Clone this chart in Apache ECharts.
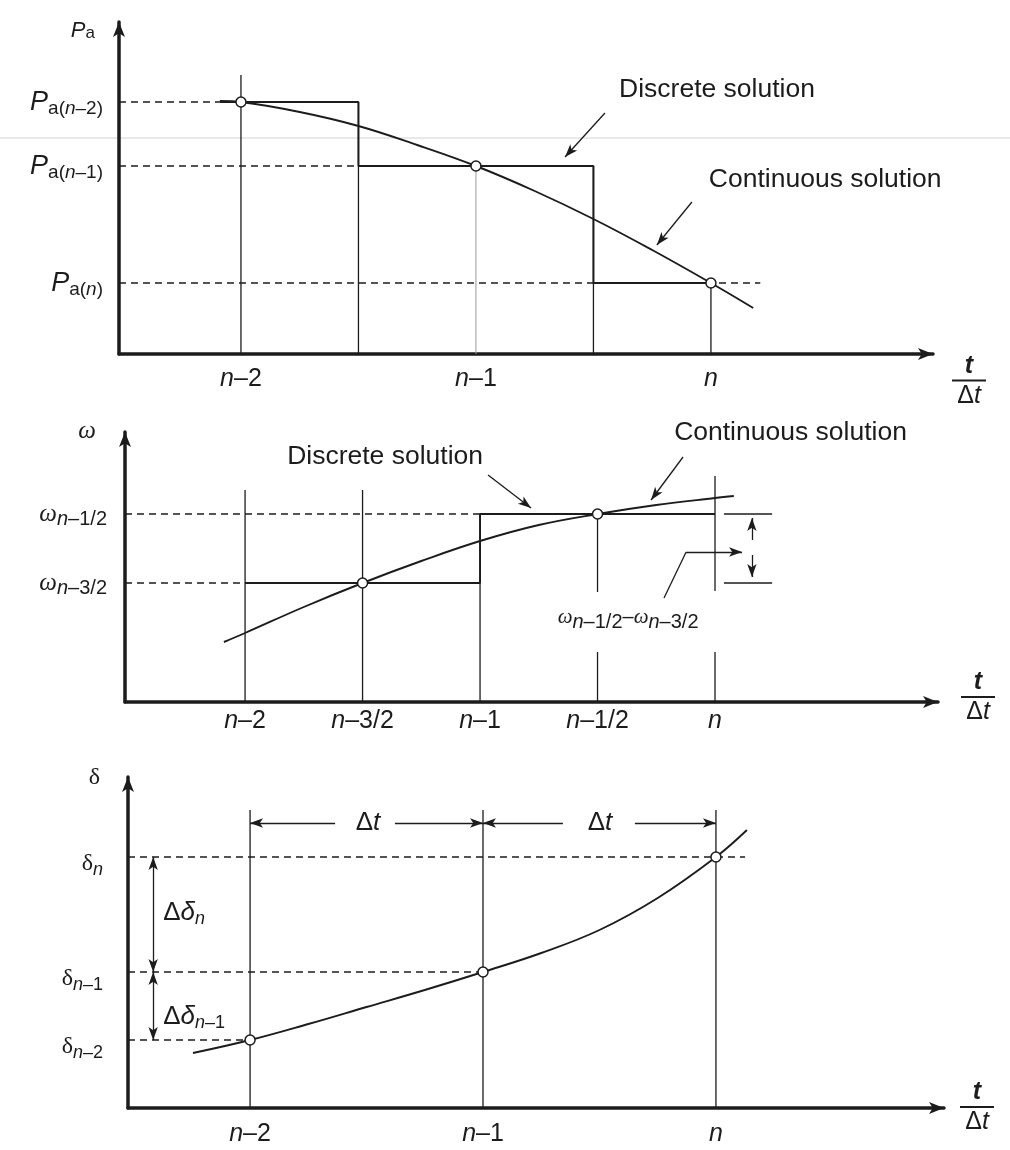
<!DOCTYPE html>
<html>
<head>
<meta charset="utf-8">
<script src="https://cdn.jsdelivr.net/npm/echarts@6/dist/echarts.min.js"></script>
<style>
  html, body { margin: 0; background: #fff; }
  #chart { width: 1010px; height: 1150px; }
</style>
</head>
<body>
<div id="chart"></div>
<script>
const INK = '#1c1c1c';
const FONT = '"Liberation Sans", Arial, sans-serif';
const SERIF = '"Liberation Serif", "DejaVu Serif", serif';

// ---- panel 1 : accelerating power Pa ----
const paTicks = [-2, -1, 0];
const paTickLabels = ['{i|n}–2', '{i|n}–1', '{i|n}'];
const paLevels = [252, 188, 71];
const paLevelLabels = ['{P|P}{s|a(}{si|n}{s|–2)}', '{P|P}{s|a(}{si|n}{s|–1)}', '{P|P}{s|a(}{si|n}{s|)}'];
const paContinuous = [[-2.09, 253], [-2, 252], [-1.75, 242], [-1.5, 228], [-1.25, 209], [-1, 188],
  [-0.75, 163], [-0.5, 135], [-0.25, 104], [0, 71], [0.18, 46]];
const paDiscrete = [[-2.09, 252], [-1.5, 252], [-1.5, 188], [-0.5, 188], [-0.5, 71], [0, 71]];
const paSamples = [[-2, 252], [-1, 188], [0, 71]];
const paVerticals = [[-2, 279, 0], [-1.5, 252, 0], [-0.5, 188, 0], [0, 71, 0]];
const paFaint = [[-1, 188, 0]];
const paDashEnds = [-2.09, -1.5, 0.21];
const paNotes = [['Discrete solution', -0.391, 264], ['Continuous solution', -0.009, 174]];
const paPointers = [[[-0.451, 241], [-0.621, 197]], [[-0.081, 152], [-0.230, 109]]];

// ---- panel 2 : speed ω ----
const wTicks = [-2, -1.5, -1, -0.5, 0];
const wTickLabels = ['{i|n}–2', '{i|n}–3/2', '{i|n}–1', '{i|n}–1/2', '{i|n}'];
const wLevels = [188, 119];
const wLevelLabels = ['{w|ω}{si|n}{s|–1/2}', '{w|ω}{si|n}{s|–3/2}'];
const wContinuous = [[-2.09, 60], [-2, 69], [-1.75, 95], [-1.5, 119], [-1.25, 141], [-1, 161],
  [-0.75, 177], [-0.5, 188], [-0.25, 197], [0, 204], [0.08, 206]];
const wDiscrete = [[-2, 119], [-1, 119], [-1, 188], [0, 188]];
const wSamples = [[-1.5, 119], [-0.5, 188]];
const wVerticals = [[-2, 212, 0], [-1.5, 212, 0], [-1, 188, 0], [-0.5, 188, 110], [-0.5, 50, 0],
  [0, 226, 111], [0, 50, 0]];
const wDashEnds = [-1, -2];
const wBracketX = [0.038, 0.243];
const wBracketArrows = [[[0.157, 162], [0.157, 184]], [[0.157, 147], [0.157, 125]]];
const wLeader = [[-0.217, 104], [-0.123, 150]];
const wLeaderArrow = [[-0.123, 150], [0.115, 150]];
const wNotes = [['Discrete solution', -1.821, 245], ['Continuous solution', -0.174, 269]];
const wPointers = [[[-0.966, 227], [-0.783, 194]], [[-0.136, 245], [-0.272, 202]]];
const wDiffLabel = ['{v|ω}{si|n}{s|–1/2}{m|–}{v|ω}{si|n}{s|–3/2}', -0.37, 85];

// ---- panel 3 : rotor angle δ ----
const dTicks = [-2, -1, 0];
const dTickLabels = ['{i|n}–2', '{i|n}–1', '{i|n}'];
const dLevels = [251, 136, 68];
const dLevelLabels = ['{d|δ}{si|n}', '{d|δ}{si|n}{s|–1}', '{d|δ}{si|n}{s|–2}'];
const dContinuous = [[-2.245, 55], [-2, 68], [-1.75, 84], [-1.5, 101], [-1.25, 118], [-1, 136],
  [-0.75, 155], [-0.5, 178], [-0.25, 210], [0, 251], [0.133, 278]];
const dSamples = [[-2, 68], [-1, 136], [0, 251]];
const dVerticals = [[-2, 298, 0], [-1, 298, 0], [0, 298, 0]];
const dDashEnds = [0.125, -1, -2];
const dStepArrows = [[[-1.635, 285], [-2, 285]], [[-1.378, 285], [-1, 285]],
  [[-0.657, 285], [-1, 285]], [[-0.348, 285], [0, 285]]];
const dStepLabels = [['{D|Δ}{ti|t}', -1.494, 285], ['{D|Δ}{ti|t}', -0.498, 285]];
const dDeltaArrows = [[[-2.416, 251], [-2.416, 136]], [[-2.416, 136], [-2.416, 68]]];
const dDeltaLabels = [['{D|Δ}{dl|δ}{si|n}', -2.373, 195], ['{D|Δ}{dl|δ}{si|n}{s|–1}', -2.373, 91]];

const xRich = { i: { fontStyle: 'italic', fontSize: 25, fontFamily: FONT, color: INK } };
const fracRich = {
  ft: { fontSize: 25, fontStyle: 'italic', fontWeight: 'bold', fontFamily: FONT, color: INK, align: 'center', lineHeight: 24 },
  bar: { width: 34, height: 2, lineHeight: 5, fontSize: 2, backgroundColor: INK, align: 'center' },
  fd: { fontSize: 25, fontFamily: FONT, color: INK, align: 'center', lineHeight: 26 },
  fdi: { fontSize: 25, fontStyle: 'italic', fontFamily: FONT, color: INK, align: 'center', lineHeight: 26 }
};
const paRich = {
  P: { fontSize: 27, fontStyle: 'italic', fontFamily: FONT, color: INK },
  s: { fontSize: 19, fontFamily: FONT, color: INK, padding: [13, 0, 0, 0] },
  si: { fontSize: 19, fontStyle: 'italic', fontFamily: FONT, color: INK, padding: [13, 0, 0, 0] },
  p: { fontSize: 22, fontStyle: 'italic', fontFamily: FONT, color: INK },
  a: { fontSize: 17, fontFamily: FONT, color: INK, padding: [5, 0, 0, 0] }
};
const wRich = {
  w: { fontSize: 25, fontStyle: 'italic', fontFamily: SERIF, color: INK },
  v: { fontSize: 21, fontStyle: 'italic', fontFamily: SERIF, color: INK },
  s: { fontSize: 20, fontFamily: FONT, color: INK, padding: [11, 0, 0, 0] },
  si: { fontSize: 20, fontStyle: 'italic', fontFamily: FONT, color: INK, padding: [11, 0, 0, 0] },
  m: { fontSize: 20, fontFamily: FONT, color: INK }
};
const dRich = {
  d: { fontSize: 24, fontFamily: SERIF, color: INK },
  D: { fontSize: 26, fontFamily: FONT, color: INK },
  dl: { fontSize: 26, fontStyle: 'italic', fontFamily: FONT, color: INK },
  ti: { fontSize: 26, fontStyle: 'italic', fontFamily: FONT, color: INK },
  s: { fontSize: 18, fontFamily: FONT, color: INK, padding: [12, 0, 0, 0] },
  si: { fontSize: 18, fontStyle: 'italic', fontFamily: FONT, color: INK, padding: [12, 0, 0, 0] }
};

const xRanges = [[-2.519, 0.945], [-2.511, 0.949], [-2.524, 0.979]];
const yMax = [332, 270, 331];

function pick(v, vals, labels) {
  const k = vals.findIndex(t => Math.abs(t - v) < 1e-6);
  return k < 0 ? '' : labels[k];
}

function xAxis(gi, ticks, labels, margin, nameGap, nameAlignV, namePad) {
  return {
    type: 'value', gridIndex: gi, min: xRanges[gi][0], max: xRanges[gi][1],
    axisLine: { show: true, onZero: false, symbol: ['none', 'arrow'], symbolSize: [9, 15],
      lineStyle: { color: INK, width: 3.5 } },
    axisTick: { show: false }, splitLine: { show: false },
    axisLabel: { customValues: ticks, margin: margin, fontSize: 25, fontFamily: FONT, color: INK,
      formatter: v => pick(v, ticks, labels), rich: xRich },
    name: '{ft|t}\n{bar| }\n{fd|Δ}{fdi|t}', nameLocation: 'end', nameGap: nameGap,
    nameTextStyle: { align: 'left', verticalAlign: nameAlignV, padding: namePad, rich: fracRich }
  };
}

function yAxis(gi, levels, labels, rich, margin, labelPad, name, nameGap, namePad) {
  return {
    type: 'value', gridIndex: gi, min: 0, max: yMax[gi],
    axisLine: { show: true, onZero: false, symbol: ['none', 'arrow'], symbolSize: [9, 15],
      lineStyle: { color: INK, width: 3.5 } },
    axisTick: { show: false }, splitLine: { show: false },
    axisLabel: { customValues: levels, margin: margin, padding: labelPad, color: INK,
      formatter: v => pick(v, levels, labels), rich: rich },
    name: name, nameLocation: 'end', nameGap: nameGap,
    nameTextStyle: { align: 'right', padding: namePad, rich: rich }
  };
}

function poly(gi, data, lineStyle, extra) {
  return Object.assign({
    type: 'line', xAxisIndex: gi, yAxisIndex: gi, data: data, symbol: 'none',
    silent: true, animation: false, clip: false, lineStyle: lineStyle
  }, extra || {});
}

const solid = { color: INK, width: 1.9 };
const thin = { color: INK, width: 1.3 };
const faint = { color: '#9a9a9a', width: 1 };
const dashed = { color: INK, width: 1.3, type: [7, 5] };
const curved = { smooth: 0.4 };

function verticals(gi, list, style) {
  return list.map(([x, top, bot]) => poly(gi, [[x, top], [x, bot]], style));
}
function dashes(gi, levels, ends) {
  return levels.map((lv, k) => poly(gi, [[xRanges[gi][0], lv], [ends[k], lv]], dashed));
}
function samples(gi, data) {
  return {
    type: 'scatter', xAxisIndex: gi, yAxisIndex: gi, data: data, symbolSize: 10, z: 5,
    silent: true, animation: false,
    itemStyle: { color: '#fff', borderColor: INK, borderWidth: 1.5, opacity: 1 }
  };
}
function arrows(gi, list, both) {
  return {
    type: 'line', xAxisIndex: gi, yAxisIndex: gi, data: [], silent: true, animation: false,
    markLine: {
      silent: true, animation: false, symbol: [both ? 'arrow' : 'none', 'arrow'], symbolSize: [7, 13],
      label: { show: false }, lineStyle: { color: INK, width: 1.3, type: 'solid' },
      emphasis: { disabled: true },
      data: list.map(([a, b]) => [{ coord: a }, { coord: b }])
    }
  };
}
function notes(gi, list, rich, fontSize, align) {
  return {
    type: 'scatter', xAxisIndex: gi, yAxisIndex: gi, symbolSize: 0, silent: true, animation: false, z: 6,
    itemStyle: { opacity: 1 },
    data: list.map(([text, x, y]) => ({
      value: [x, y],
      label: { show: true, formatter: text, position: align === 'left' ? 'right' : 'inside', distance: 0,
        fontSize: fontSize, fontFamily: FONT, color: INK, opacity: 1, rich: rich }
    }))
  };
}

const series = [].concat(
  // panel 1
  verticals(0, paVerticals, thin),
  verticals(0, paFaint, faint),
  dashes(0, paLevels, paDashEnds),
  [poly(0, paDiscrete, solid), poly(0, paContinuous, solid, curved),
   samples(0, paSamples), arrows(0, paPointers, false),
   notes(0, paNotes, {}, 26.5, 'left')],
  // panel 2
  verticals(1, wVerticals, thin),
  dashes(1, wLevels, wDashEnds),
  wLevels.map(lv => poly(1, [[wBracketX[0], lv], [wBracketX[1], lv]], thin)),
  [poly(1, wDiscrete, solid), poly(1, wContinuous, solid, curved),
   samples(1, wSamples), arrows(1, wPointers, false), arrows(1, wBracketArrows, false),
   poly(1, wLeader, thin), arrows(1, [wLeaderArrow], false),
   notes(1, wNotes, {}, 26.5, 'left'),
   notes(1, [wDiffLabel], wRich, 20, 'center')],
  // panel 3
  verticals(2, dVerticals, thin),
  dashes(2, dLevels, dDashEnds),
  [poly(2, dContinuous, solid, curved),
   samples(2, dSamples), arrows(2, dStepArrows, false), arrows(2, dDeltaArrows, true),
   notes(2, dStepLabels, dRich, 26, 'center'),
   notes(2, dDeltaLabels, dRich, 26, 'left')]
);

const chart = echarts.init(document.getElementById('chart'));
chart.setOption({
  backgroundColor: '#fff',
  animation: false,
  textStyle: { fontFamily: FONT, color: INK },
  grid: [
    { left: 119, top: 22, width: 814, height: 332, outerBoundsMode: 'none' },
    { left: 125, top: 432, width: 813, height: 270, outerBoundsMode: 'none' },
    { left: 128, top: 777, width: 816, height: 331, outerBoundsMode: 'none' }
  ],
  xAxis: [
    xAxis(0, paTicks, paTickLabels, 13, 19, 'top', 0),
    xAxis(1, wTicks, wTickLabels, 7, 23, 'middle', [0, 0, 8, 0]),
    xAxis(2, dTicks, dTickLabels, 14, 16, 'middle', 0)
  ],
  yAxis: [
    yAxis(0, paLevels, paLevelLabels, paRich, 16, 0, '{p|P}{a|a}', -20, [0, 24, 0, 0]),
    yAxis(1, wLevels, wLevelLabels, wRich, 18, 0, '{w|ω}', -12, [0, 29, 0, 0]),
    yAxis(2, dLevels, dLevelLabels, dRich, 25, [14, 0, 0, 0], '{d|δ}', -13, [0, 28, 0, 0])
  ],
  graphic: [
    { type: 'line', silent: true, z: -1, shape: { x1: 0, y1: 138, x2: 1010, y2: 138 },
      style: { stroke: '#d2d2d2', lineWidth: 1 } }
  ],
  series: series
});
</script>
</body>
</html>
